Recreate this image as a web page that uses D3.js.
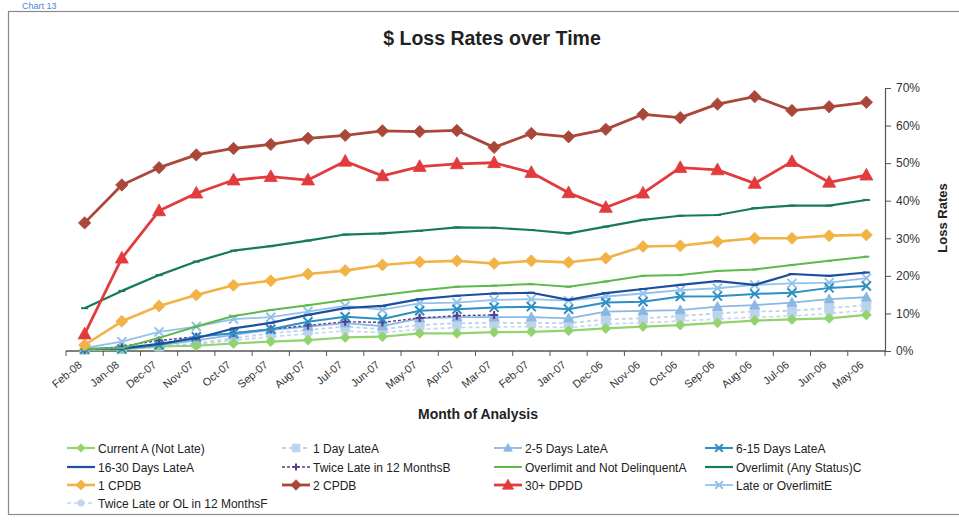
<!DOCTYPE html>
<html><head><meta charset="utf-8">
<script src="https://cdn.jsdelivr.net/npm/d3@7"></script>
<style>body{margin:0;background:#fff}svg{display:block;font-family:"Liberation Sans",Arial,Helvetica,sans-serif}</style>
</head><body>
<svg id="c" width="959" height="521"></svg>
<script>
const categories = ["Feb-08","Jan-08","Dec-07","Nov-07","Oct-07","Sep-07","Aug-07","Jul-07","Jun-07","May-07","Apr-07","Mar-07","Feb-07","Jan-07","Dec-06","Nov-06","Oct-06","Sep-06","Aug-06","Jul-06","Jun-06","May-06"];
const yTicks = [0,10,20,30,40,50,60,70];

const currentA      = [0.4,0.5,1.2,1.4,2.0,2.5,2.9,3.6,3.8,4.7,4.7,5.0,5.1,5.4,6.0,6.5,6.9,7.5,8.1,8.4,8.7,9.6];
const oneDayLate    = [0.3,0.5,1.2,2.0,3.4,4.7,5.6,6.5,5.8,6.9,7.4,7.5,7.5,7.4,8.4,8.7,9.3,10.0,10.5,10.7,11.4,12.2];
const twoFiveLate   = [0.3,0.6,1.5,2.8,4.3,5.6,6.5,7.4,6.6,8.7,9.0,9.0,9.0,8.7,10.5,10.7,10.9,11.8,12.2,12.9,13.8,14.3];
const sixFifteen    = [0.5,0.5,1.6,3.8,4.7,5.8,7.8,9.1,8.5,10.7,11.1,11.6,11.8,11.1,12.9,13.1,14.5,14.6,15.2,15.5,16.8,17.3];
const sixteenThirty = [0.5,0.7,1.9,3.4,6.0,7.5,9.6,11.4,12.0,13.8,14.7,15.3,15.5,13.6,15.4,16.5,17.6,18.6,17.6,20.5,20.0,20.9];
const twiceLate12   = [0.3,1.2,2.8,3.8,4.8,5.8,6.8,7.8,7.6,8.8,9.4,9.6,null,null,null,null,null,null,null,null,null,null];
const overlimitND   = [0.5,0.8,3.5,6.5,9.3,10.9,12.2,13.6,14.9,16.1,17.1,17.4,17.8,17.1,18.5,20.0,20.2,21.3,21.7,22.9,24.0,25.1];
const overlimitAny  = [11.4,16.0,20.2,23.8,26.7,27.9,29.4,31.0,31.3,32.0,32.9,32.8,32.2,31.3,33.1,34.9,36.0,36.2,38.0,38.7,38.7,40.2];
const oneCPDB       = [1.6,7.9,12.0,14.9,17.5,18.7,20.5,21.4,22.9,23.7,24.0,23.3,24.0,23.6,24.7,27.8,28.0,29.1,30.0,30.0,30.7,30.9];
const twoCPDB       = [34.1,44.2,48.8,52.2,53.9,55.0,56.6,57.4,58.6,58.4,58.7,54.2,57.9,57.0,59.0,63.0,62.1,65.7,67.7,64.0,65.0,66.2];
const dpdd30        = [4.5,24.7,37.3,42.0,45.5,46.4,45.5,50.5,46.6,49.1,49.8,50.1,47.5,42.1,38.2,42.0,48.8,48.2,44.6,50.4,44.9,46.8];
const lateOrOL      = [0.8,2.5,5.1,6.5,8.5,9.0,10.5,12.0,11.0,12.7,12.9,13.6,13.8,13.4,14.5,15.3,16.2,16.7,17.6,18.0,18.2,19.4];
const twiceLateOL   = [0.3,0.5,1.0,1.8,2.8,3.8,4.6,5.3,4.9,5.8,6.2,6.4,6.5,6.2,7.2,7.5,8.0,8.5,9.0,9.3,10.0,10.8];

const seriesNames = ["Current A (Not Late)","1 Day LateA","2-5 Days LateA","6-15 Days LateA","16-30 Days LateA","Twice Late in 12 MonthsB","Overlimit and Not DelinquentA","Overlimit (Any Status)C","1 CPDB","2 CPDB","30+ DPDD","Late or OverlimitE","Twice Late or OL in 12 MonthsF"];
const seriesValues = [currentA,oneDayLate,twoFiveLate,sixFifteen,sixteenThirty,twiceLate12,overlimitND,overlimitAny,oneCPDB,twoCPDB,dpdd30,lateOrOL,twiceLateOL];

const styles = [
  {color:"#92d36e", marker:"diamond", size:5, width:2.2, dash:null},
  {color:"#bcd3ee", marker:"square", size:4.5, width:1.8, dash:"4,3"},
  {color:"#8ab8e2", marker:"triangle", size:5, width:1.8, dash:null},
  {color:"#2d8fc4", marker:"x", size:4.5, width:2, dash:null},
  {color:"#1d4f9c", marker:"dash", size:3.5, width:2.2, dash:null},
  {color:"#5b3d8e", marker:"plus", size:4, width:1.4, dash:"3,2"},
  {color:"#5db94c", marker:"dash", size:3, width:2, dash:null},
  {color:"#177a58", marker:"dash", size:3.5, width:2.2, dash:null},
  {color:"#f2b346", marker:"diamond", size:6, width:2.6, dash:null},
  {color:"#a9473a", marker:"diamond", size:6.2, width:2.8, dash:null},
  {color:"#e23b3e", marker:"triangle", size:6.5, width:2.8, dash:null},
  {color:"#93c2ea", marker:"x", size:4.5, width:1.8, dash:null},
  {color:"#c3d6ee", marker:"circle", size:3.8, width:1.6, dash:"4,3"}
];
const drawOrder = [12,1,2,0,5,11,3,4,6,7,8,10,9];

const svg = d3.select("#c");
const pLeft = 66, pRight = 885, pTop = 88, pBottom = 351;
const x = d3.scaleBand().domain(categories).range([pLeft,pRight]).padding(0);
const y = d3.scaleLinear().domain([0,70]).range([pBottom,pTop]);
const cx = c => x(c) + x.bandwidth()/2;

// frame
svg.append("rect").attr("x",8.5).attr("y",11.5).attr("width",1000).attr("height",503)
  .attr("fill","none").attr("stroke","#8a8a8a").attr("stroke-width",1.2);
svg.append("text").attr("x",22).attr("y",9).attr("fill","#4a8ad0").attr("font-size",9).text("Chart 13");

// title
svg.append("text").attr("x",492).attr("y",45).attr("text-anchor","middle")
  .attr("font-size",19.5).attr("font-weight","bold").attr("fill","#222").text("$ Loss Rates over Time");

// y axis (right)
const yAxis = d3.axisRight(y).tickValues(yTicks).tickFormat(d => d + "%").tickSize(6).tickSizeOuter(0);
const ga = svg.append("g").attr("transform",`translate(${pRight},0)`).call(yAxis);
ga.select(".domain").attr("stroke","#555").attr("stroke-width",1.2);
ga.selectAll(".tick line").attr("stroke","#555");
ga.selectAll(".tick text").attr("font-size",12).attr("fill","#333").attr("x",11).attr("font-family","Liberation Sans, Arial");

svg.append("text").attr("transform","translate(947,218) rotate(-90)").attr("text-anchor","middle")
  .attr("font-size",13).attr("font-weight","bold").attr("fill","#222").text("Loss Rates");

// x axis
const gx = svg.append("g").attr("transform",`translate(0,${pBottom})`);
gx.append("line").attr("x1",pLeft).attr("x2",pRight).attr("stroke","#555").attr("stroke-width",1.4);
const boundaries = categories.map(c => x(c)).concat([pRight]);
gx.selectAll("line.tk").data(boundaries).join("line").attr("class","tk")
  .attr("x1",d=>d).attr("x2",d=>d).attr("y1",0).attr("y2",5).attr("stroke","#555");
gx.selectAll("text").data(categories).join("text")
  .attr("text-anchor","end").attr("font-size",11).attr("fill","#333")
  .attr("transform",c => `translate(${cx(c)-2},${15}) rotate(-40)`).text(c=>c);

svg.append("text").attr("x",478).attr("y",419).attr("text-anchor","middle")
  .attr("font-size",14).attr("font-weight","bold").attr("fill","#222").text("Month of Analysis");

function markerPath(type, s) {
  switch(type) {
    case "diamond": return `M0,${-s}L${s},0L0,${s}L${-s},0Z`;
    case "square": return `M${-s},${-s}H${s}V${s}H${-s}Z`;
    case "triangle": return `M0,${-s*1.05}L${s},${s*0.75}L${-s},${s*0.75}Z`;
    case "circle": return d3.symbol(d3.symbolCircle, Math.PI*s*s)();
    case "x": return `M${-s},${-s}L${s},${s}M${s},${-s}L${-s},${s}`;
    case "plus": return `M${-s},0H${s}M0,${-s}V${s}`;
    case "dash": return `M${-s},0H${s}`;
  }
}
function drawMarker(g, st, px, py, scale) {
  const s = st.size*(scale||1);
  const filled = ["diamond","square","triangle","circle"].includes(st.marker);
  g.append("path").attr("d",markerPath(st.marker,s)).attr("transform",`translate(${px},${py})`)
    .attr("fill",filled?st.color:"none").attr("stroke",st.color)
    .attr("stroke-width",filled?0.8:2);
}

const line = d3.line().defined(d => d.v != null).x(d => cx(d.c)).y(d => y(d.v));
const plot = svg.append("g");
drawOrder.forEach(i => {
  const st = styles[i];
  const data = categories.map((c,k) => ({c, v: seriesValues[i][k]}));
  const g = plot.append("g");
  g.append("path").datum(data).attr("d",line).attr("fill","none").attr("stroke",st.color)
    .attr("stroke-width",st.width).attr("stroke-dasharray",st.dash).attr("stroke-linejoin","round");
  data.filter(d => d.v != null).forEach(d => drawMarker(g, st, cx(d.c), y(d.v)));
});

// legend
const colX = [67, 282, 494, 705];
const rowY = [448, 467, 485, 503];
seriesNames.forEach((n,i) => {
  const st = styles[i];
  const lx = colX[i%4], ly = rowY[Math.floor(i/4)];
  const g = svg.append("g");
  g.append("line").attr("x1",lx).attr("x2",lx+28).attr("y1",ly).attr("y2",ly)
    .attr("stroke",st.color).attr("stroke-width",st.width).attr("stroke-dasharray",st.dash);
  drawMarker(g, st, lx+14, ly, 0.85);
  g.append("text").attr("x",lx+31).attr("y",ly+4.5).attr("font-size",12).attr("fill","#222").text(n);
});
</script>
</body></html>
